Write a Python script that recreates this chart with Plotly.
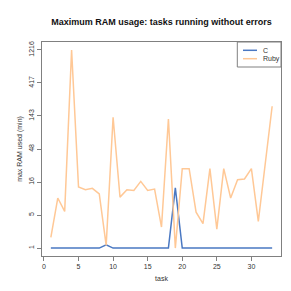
import numpy as np
import plotly.graph_objects as go

tasks = list(range(1, 34))
c_ram = [1, 1, 1, 1, 1, 1, 1, 1, 1.23, 1, 1, 1, 1, 1, 1, 1, 1, 1, 13,
         1, 1, 1, 1, 1, 1, 1, 1, 1, 1, 1, 1, 1, 1]
ruby_ram = [1.83, 9.1, 5.56, 1216, 13.4, 12.2, 12.8, 10.5, 1.18, 136.7,
            9.4, 12.2, 11.9, 16.3, 11.9, 12.5, 2.95, 129, 1, 25.1,
            25.1, 5.4, 3.4, 25.1, 2.7, 25.1, 9.1, 17.3, 17.7, 25.1,
            3.75, 29.7, 195.8]
y_tick_labels = ["1", "5", "16", "48", "143", "417", "1216"]
x_ticks = [0, 5, 10, 15, 20, 25, 30]

c_t = np.log1p(c_ram)
r_t = np.log1p(ruby_ram)
lo, hi = np.log1p(1), np.log1p(1216)
tickvals = np.linspace(lo, hi, len(y_tick_labels))
pad = (hi - lo) * 0.04

BLUE = "#4a78c2"
ORANGE = "#ffc896"
GRAY = "#808080"
FONT = "Liberation Sans, Arial, sans-serif"

fig = go.Figure()
fig.add_trace(go.Scatter(x=tasks, y=c_t, mode="lines", name="C",
                         line=dict(color=BLUE, width=1.5)))
fig.add_trace(go.Scatter(x=tasks, y=r_t, mode="lines", name="Ruby",
                         line=dict(color=ORANGE, width=1.5)))

fig.update_layout(
    width=291, height=291,
    margin=dict(l=34, r=18, t=34, b=43),
    paper_bgcolor="white", plot_bgcolor="white",
    showlegend=False,
    font=dict(family=FONT, size=7, color="#333333"),
    title=dict(text="<b>Maximum RAM usage: tasks running without errors</b>",
               x=(34 + 273) / 2 / 291, xanchor="center", y=1 - 14 / 291,
               yanchor="middle", font=dict(size=9, color="#111111")),
)
fig.update_xaxes(range=[-0.28, 34.28], tickvals=x_ticks, showgrid=False,
                 zeroline=False, showline=True, mirror=True, linecolor=GRAY,
                 linewidth=1, ticks="outside", ticklen=4, tickcolor=GRAY,
                 title=dict(text="task", standoff=6, font=dict(size=7)))
fig.update_yaxes(range=[lo - pad, hi + pad], tickvals=tickvals,
                 ticktext=y_tick_labels, tickangle=-90, showgrid=False,
                 zeroline=False, showline=True, mirror=True, linecolor=GRAY,
                 linewidth=1, ticks="outside", ticklen=4, tickcolor=GRAY,
                 title=dict(text="max RAM used (min)", standoff=4,
                            font=dict(size=7)))

# legend box
lx0, lx1 = (229.3 - 34) / 239, 1.0
ly0, ly1 = (248 - 59) / 214, 1.0
fig.add_shape(type="rect", xref="paper", yref="paper", x0=lx0, x1=lx1,
              y0=ly0, y1=ly1, line=dict(color=GRAY, width=1),
              fillcolor="white", layer="above")
for name, col, yy in [("C", BLUE, (248 - 42.3) / 214),
                      ("Ruby", ORANGE, (248 - 50.7) / 214)]:
    fig.add_shape(type="line", xref="paper", yref="paper",
                  x0=(235 - 34) / 239, x1=(249 - 34) / 239, y0=yy, y1=yy,
                  line=dict(color=col, width=1.5), layer="above")
    fig.add_annotation(xref="paper", yref="paper", x=(253 - 34) / 239, y=yy,
                       text=name, showarrow=False, xanchor="left",
                       yanchor="middle", font=dict(size=7, color="#333333"))

fig.write_html("out.html")
